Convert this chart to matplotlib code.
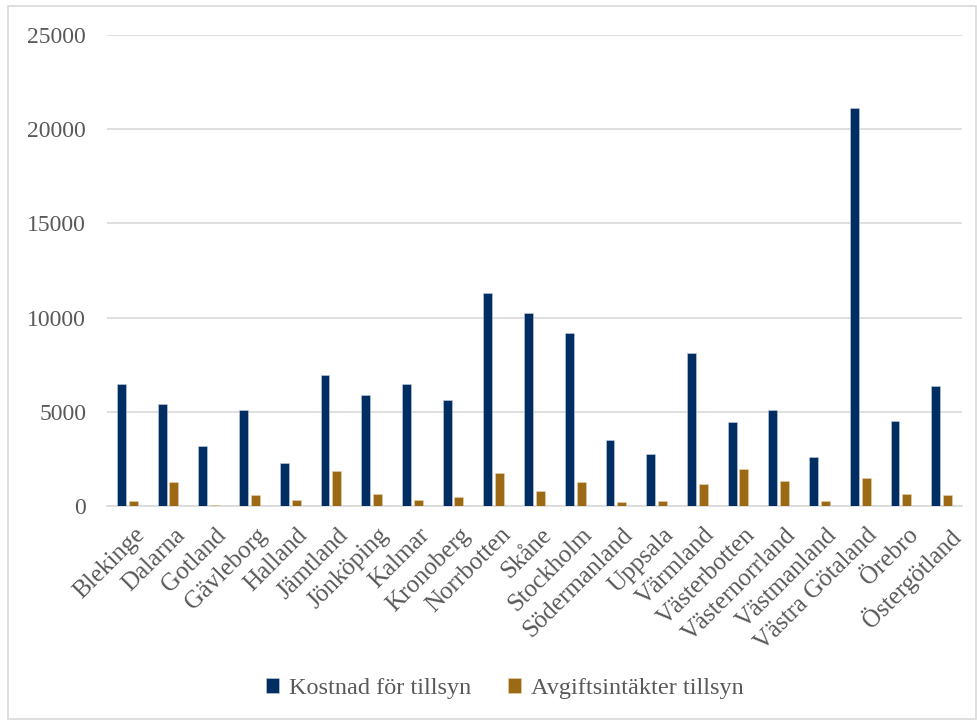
import numpy as np
import matplotlib
matplotlib.use("Agg")
import matplotlib.pyplot as plt
import matplotlib.transforms as mtransforms
from matplotlib.patches import Rectangle

plt.rcParams['font.family'] = ['Liberation Serif', 'DejaVu Serif']

# county names
counties = ["Blekinge", "Dalarna", "Gotland", "Gävleborg", "Halland", "Jämtland",
            "Jönköping", "Kalmar", "Kronoberg", "Norrbotten", "Skåne", "Stockholm",
            "Södermanland", "Uppsala", "Värmland", "Västerbotten", "Västernorrland",
            "Västmanland", "Västra Götaland", "Örebro", "Östergötland"]

kostnad = [6480, 5400, 3160, 5100, 2260, 6960, 5880, 6480, 5600, 11320,
           10230, 9160, 3510, 2770, 8100, 4430, 5090, 2610, 21130, 4500, 6380]
avgift = [260, 1270, 60, 550, 330, 1850, 620, 330, 440, 1740,
          800, 1240, 200, 230, 1170, 1950, 1290, 230, 1470, 640, 590]

series_names = ["Kostnad för tillsyn", "Avgiftsintäkter tillsyn"]
navy = "#002D62"
gold = "#9C6A14"
grey_text = "#595959"
grid_col = "#D9D9D9"

fig = plt.figure(figsize=(9.78, 7.2), dpi=100)
ax = fig.add_axes([0.1094, 0.2976, 0.9836 - 0.1094, 0.951 - 0.2976])

x = np.arange(len(counties))
w = 0.22
b1 = ax.bar(x - 0.145, kostnad, w, color=navy, edgecolor="#c8d0dc", linewidth=0.4,
            label=series_names[0], zorder=3)
b2 = ax.bar(x + 0.145, avgift, w, color=gold, edgecolor="#e6d2b0", linewidth=0.4,
            label=series_names[1], zorder=3)

ax.set_xlim(-0.5, len(counties) - 0.5)
ax.set_ylim(0, 25000)
ax.set_yticks(np.arange(0, 25001, 5000))
ax.yaxis.grid(True, color=grid_col, linewidth=1.2, zorder=0)
ax.set_axisbelow(True)
for s in ["top", "right", "left"]:
    ax.spines[s].set_visible(False)
ax.spines["bottom"].set_color(grid_col)
ax.spines["bottom"].set_linewidth(1.2)

ax.tick_params(axis="y", length=0, labelsize=17, labelcolor=grey_text, pad=15)
ax.set_xticks(x)
ax.set_xticklabels(counties, rotation=45, ha="right", rotation_mode="anchor")
ax.tick_params(axis="x", length=0, labelsize=18, labelcolor=grey_text, pad=13)

# nudge the rotated labels a little to the right
shift = mtransforms.ScaledTranslation(6 / 100, 0, fig.dpi_scale_trans)
for lbl in ax.get_xticklabels():
    lbl.set_transform(lbl.get_transform() + shift)

fig.legend(handles=[b1, b2], labels=series_names, loc="center", bbox_to_anchor=(0.516, 0.044),
           ncol=2, frameon=False, fontsize=17.5, handlelength=0.55, handleheight=0.55,
           handletextpad=0.4, columnspacing=1.5, labelcolor=grey_text)

# light border around the chart area
fig.patches.append(Rectangle((8 / 978, 1 / 720), 968 / 978, 713 / 720, transform=fig.transFigure,
                             fill=False, edgecolor="#D9D9D9", linewidth=1.2))

fig.savefig("out.png", dpi=100)
